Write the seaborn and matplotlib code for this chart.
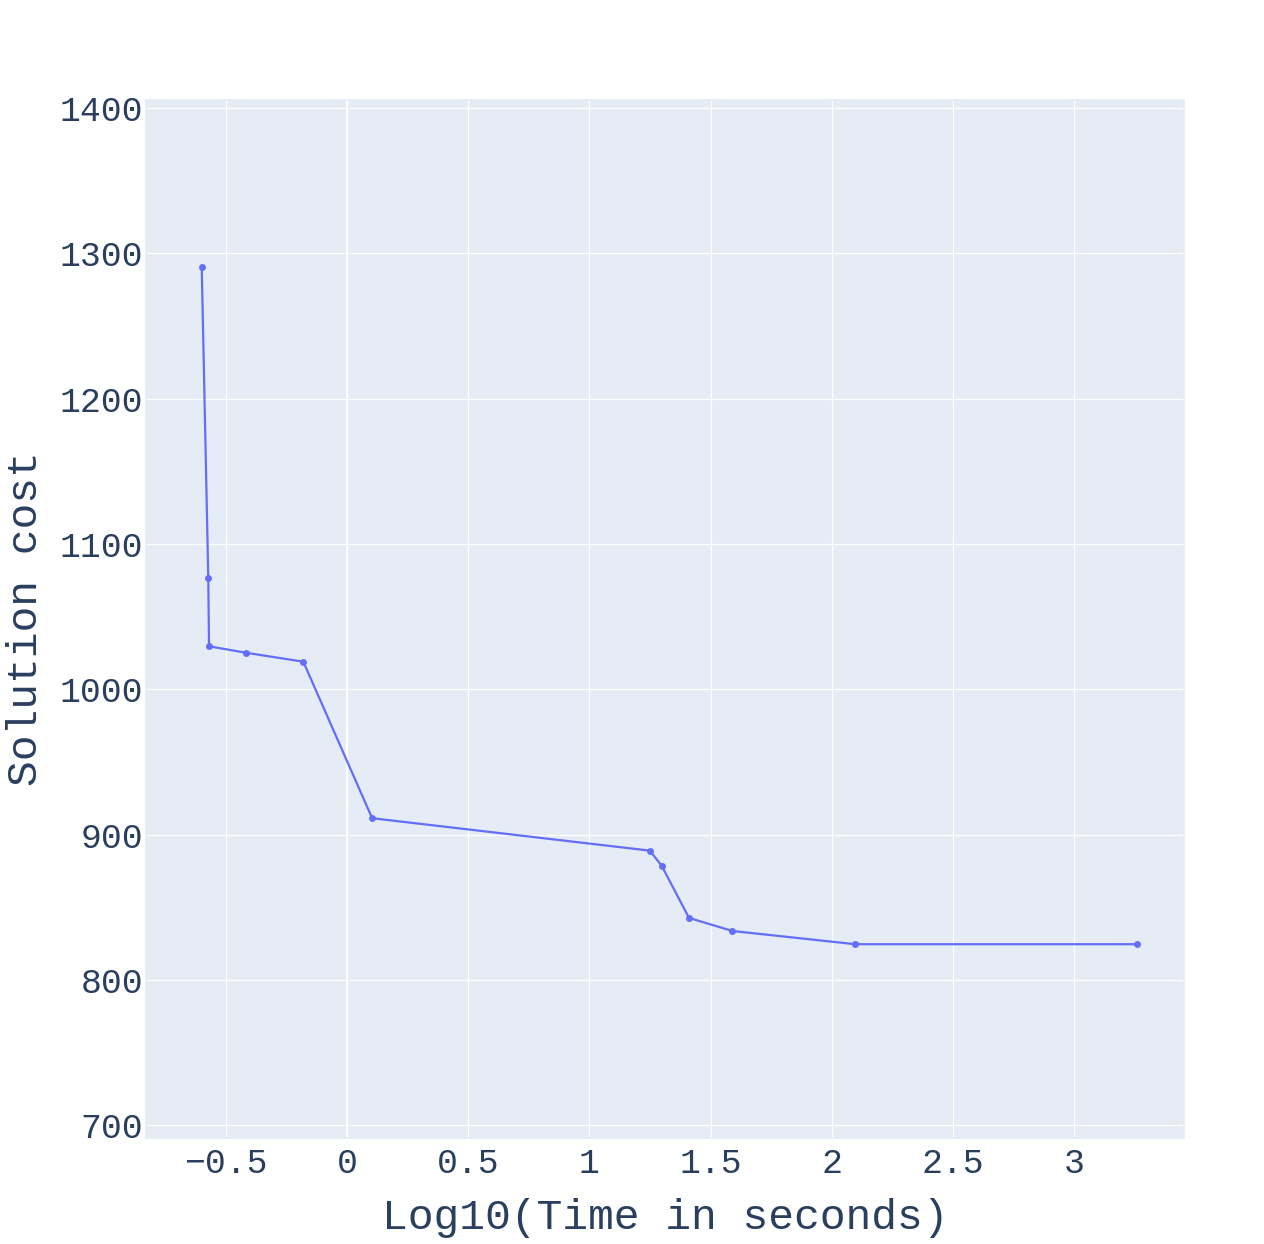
import pandas as pd
import matplotlib.pyplot as plt
import seaborn as sns

# Set Seaborn style (plotly-like look)
sns.set_theme(style="darkgrid", rc={
    "axes.facecolor": "#E5ECF6",
    "grid.color": "white",
    "grid.linewidth": 0.9,
    "axes.edgecolor": "#E5ECF6",
    "xtick.bottom": False,
    "ytick.left": False,
})
plt.rcParams['font.family'] = ['Liberation Mono', 'DejaVu Sans Mono']

# Data
log_time = [-0.599, -0.572, -0.569, -0.418, -0.180, 0.104,
            1.249, 1.298, 1.411, 1.590, 2.097, 3.259]
cost = [1290.6, 1076.4, 1029.6, 1025.2, 1019.0, 911.3,
        889.0, 878.7, 842.7, 833.7, 824.6, 824.6]

x_ticks = [-0.5, 0, 0.5, 1, 1.5, 2, 2.5, 3]
x_tick_labels = ['\u22120.5', '0', '0.5', '1', '1.5', '2', '2.5', '3']
y_ticks = [700, 800, 900, 1000, 1100, 1200, 1300, 1400]

df = pd.DataFrame({'log_time': log_time, 'cost': cost})

fig = plt.figure(figsize=(12.64, 12.44), dpi=100)
ax = fig.add_axes([0.1155, 0.0855, 0.8212, 0.8341])

text_color = '#2a3f5f'
ax.axvline(0, color='white', linewidth=1.6, zorder=1)
sns.lineplot(data=df, x='log_time', y='cost', sort=False, ax=ax,
             color='#636EFA', linewidth=1.6, marker='o', markersize=5,
             markeredgewidth=0, zorder=3)

ax.set_xlim(-0.829, 3.453)
ax.set_ylim(691.5, 1405.5)
ax.set_xticks(x_ticks)
ax.set_xticklabels(x_tick_labels)
ax.set_yticks(y_ticks)
ax.tick_params(axis='both', labelsize=25, colors=text_color, length=0)
ax.tick_params(axis='x', pad=7)
ax.tick_params(axis='y', pad=2)

ax.set_xlabel('Log10(Time in seconds)', fontsize=31, color=text_color, labelpad=13)
ax.set_ylabel('Solution cost', fontsize=31, color=text_color, labelpad=10)

fig.savefig('out.png', dpi=100, facecolor='white')
